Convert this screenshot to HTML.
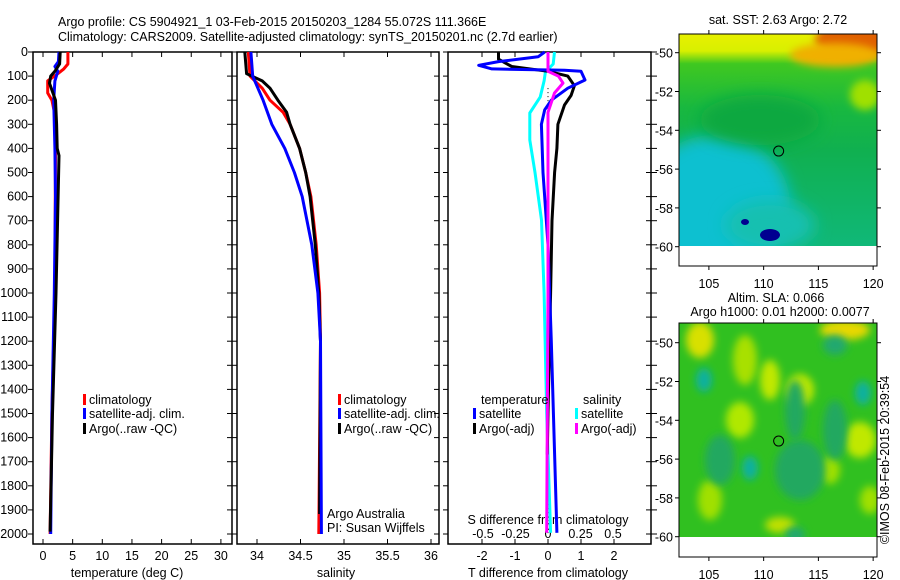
<!DOCTYPE html>
<html><head><meta charset="utf-8"><style>
body{margin:0;background:#fff;}
svg{display:block;font-family:"Liberation Sans",sans-serif;}
text{font-size:12.5px;fill:#000;}
</style></head><body>
<svg id="c" width="900" height="580" viewBox="0 0 900 580">
<defs>
<linearGradient id="sstg" x1="0" y1="0" x2="0" y2="1">
<stop offset="0" stop-color="#e8f000"/><stop offset="0.08" stop-color="#d8f000"/><stop offset="0.14" stop-color="#40c820"/><stop offset="0.35" stop-color="#18b840"/><stop offset="0.55" stop-color="#10b050"/><stop offset="1" stop-color="#10b878"/>
</linearGradient>
<filter id="bl" x="-50%" y="-50%" width="200%" height="200%"><feGaussianBlur stdDeviation="8"/></filter>
<filter id="bl2" x="-50%" y="-50%" width="200%" height="200%"><feGaussianBlur stdDeviation="4"/></filter>
<clipPath id="cm1"><rect x="679" y="34" width="198" height="212"/></clipPath>
<clipPath id="cm2"><rect x="679" y="323" width="198" height="214"/></clipPath>
</defs>
</svg>
<script>
const NS='http://www.w3.org/2000/svg';
const svg=document.getElementById('c');
function el(tag,attrs,parent){const e=document.createElementNS(NS,tag);for(const k in attrs)e.setAttribute(k,attrs[k]);(parent||svg).appendChild(e);return e;}
function tx(x,y,s,anchor,name,extra){const t=el('text',Object.assign({x:x,y:y,'text-anchor':anchor||'start'},extra||{}));t.textContent=s;


return t;}

// ---- data ----
const depthTicks=[0,100,200,300,400,500,600,700,800,900,1000,1100,1200,1300,1400,1500,1600,1700,1800,1900,2000];
const tempTicks=[0,5,10,15,20,25,30];
const salTicks=[34,34.5,35,35.5,36];
const tdiffTicks=[-2,-1,0,1,2];
const sdiffTicks=[-0.5,-0.25,0,0.25,0.5];
const sdiffLabels=['-0.5','-0.25','0','0.25','0.5'];

const climTDepth=[0,50,70,90,120,170,200,260,400,1000,1500,2000];
const climT=[4.2,4.2,3.5,2.5,0.8,0.8,1.5,2.0,2.1,2.0,1.5,1.2];
const satTDepth=[0,40,60,80,120,200,400,600,1000,1500,2000];
const satT=[2.7,2.6,2.0,2.5,2.0,1.8,2.0,2.1,1.9,1.5,1.3];
const argoTDepth=[0,50,80,100,130,200,300,400,430,1000,1500,1990];
const argoT=[2.9,2.8,2.0,1.3,1.1,2.1,2.3,2.4,2.7,2.2,1.6,1.2];

const climSDepth=[0,100,150,200,250,300,400,500,600,800,1000,1200,2000];
const climS=[33.9,33.92,34.06,34.15,34.3,34.38,34.49,34.56,34.62,34.68,34.72,34.73,34.71];
const satSDepth=[0,100,150,200,300,400,500,600,800,1000,1200,2000];
const satS=[33.93,33.95,34.01,34.07,34.17,34.32,34.43,34.52,34.63,34.7,34.73,34.74];
const argoSDepth=[0,90,120,150,200,250,300,400,500,600,800,1000,1200,1917];
const argoS=[33.86,33.88,34.06,34.15,34.24,34.34,34.38,34.49,34.56,34.61,34.67,34.71,34.73,34.72];

const satTdDepth=[0,20,40,55,70,76,80,116,150,200,240,300,500,800,1200,1995];
const satTd=[-0.1,-0.3,-1.5,-2.1,-1.7,0.5,1.0,1.12,0.6,0.1,-0.1,-0.2,-0.15,0,0.1,0.27];
const argoTdDepth=[0,30,60,80,100,140,180,220,300,400,500,700,1000,1500,1670];
const argoTd=[-1.5,-1.5,-1.1,0,0.6,0.8,0.7,0.5,0.3,0.27,0.2,0.12,0.08,0,-0.02];
const satSdDepth=[0,50,83,120,187,253,365,500,697,1000,1500,1995];
const satSd=[0.05,0.04,-0.02,-0.03,-0.06,-0.14,-0.14,-0.1,-0.05,-0.03,-0.01,0.02];
const argoSdDepth=[0,80,100,129,170,250,400,1000,1995];
const argoSd=[0,0,0.08,0.115,0.05,0.0,0.0,0,-0.01];

// ---- axes ----
const yD=d=>52+d*0.241;
const xT=t=>43+t*5.93;
const xS=s=>257+(s-34)*87;
const xTd=t=>548+t*33;
const xSd=s=>548+s*130;

const panels=[{x0:33,x1:232,n:'temperature-panel'},{x0:237,x1:439,n:'salinity-panel'},{x0:448,x1:651,n:'difference-panel'}];
panels.forEach((p,i)=>{
 const r=el('rect',{x:p.x0,y:52,width:p.x1-p.x0,height:492,fill:'none',stroke:'#000','stroke-width':1.5});
 
 
 depthTicks.forEach(d=>{
  el('line',{x1:p.x0-5,x2:p.x0,y1:yD(d),y2:yD(d),stroke:'#000'});
  el('line',{x1:p.x1-5,x2:p.x1,y1:yD(d),y2:yD(d),stroke:'#000'});
  if(i==2) el('line',{x1:p.x1,x2:p.x1+6,y1:yD(d),y2:yD(d),stroke:'#000'});
 });
});
depthTicks.forEach(d=>tx(28,yD(d)+4,String(d),'end','depth-tick-label'));
tempTicks.forEach(t=>{el('line',{x1:xT(t),x2:xT(t),y1:52,y2:57,stroke:'#000'});el('line',{x1:xT(t),x2:xT(t),y1:544,y2:539,stroke:'#000'});tx(xT(t),560,String(t),'middle','temp-tick-label');});
salTicks.forEach(t=>{el('line',{x1:xS(t),x2:xS(t),y1:52,y2:57,stroke:'#000'});el('line',{x1:xS(t),x2:xS(t),y1:544,y2:539,stroke:'#000'});tx(xS(t),560,String(t),'middle','salinity-tick-label');});
tdiffTicks.forEach(t=>{el('line',{x1:xTd(t),x2:xTd(t),y1:52,y2:57,stroke:'#000'});el('line',{x1:xTd(t),x2:xTd(t),y1:544,y2:539,stroke:'#000'});tx(xTd(t),560,String(t),'middle','tdiff-tick-label');});
sdiffTicks.forEach((t,i)=>tx(xSd(t),538,sdiffLabels[i],'middle','sdiff-tick-label'));
tx(127,577,'temperature (deg C)','middle','x-axis-title-temperature');
tx(336,577,'salinity','middle','x-axis-title-salinity');
tx(548,577,'T difference from climatology','middle','x-axis-title-tdiff');
tx(548,524,'S difference from climatology','middle','s-diff-axis-title');
tx(58,26,'Argo profile: CS 5904921_1 03-Feb-2015 20150203_1284 55.072S 111.366E','start','title-line-1');
tx(58,41,'Climatology: CARS2009. Satellite-adjusted climatology: synTS_20150201.nc (2.7d earlier)','start','title-line-2');

// zero dotted line
el('line',{x1:xTd(0),x2:xTd(0),y1:yD(150),y2:yD(2000),stroke:'#000','stroke-dasharray':'1,3'});

function line(ds,vs,sx,color,name,w){
 const pts=ds.map((d,i)=>sx(vs[i]).toFixed(1)+','+yD(d).toFixed(1)).join(' ');
 const p=el('polyline',{points:pts,fill:'none',stroke:color,'stroke-width':w||3,'stroke-linejoin':'round'});
 
 
}
line(climTDepth,climT,xT,'#f00','temp-climatology-line');
line(satTDepth,satT,xT,'#00f','temp-satellite-line');
line(argoTDepth,argoT,xT,'#000','temp-argo-line');
line(climSDepth,climS,xS,'#f00','sal-climatology-line');
line(argoSDepth,argoS,xS,'#000','sal-argo-line');
line(satSDepth,satS,xS,'#00f','sal-satellite-line');
line(satSdDepth,satSd,xSd,'#0ff','sdiff-satellite-line');
line(argoTdDepth,argoTd,xTd,'#000','tdiff-argo-line');
line(satTdDepth,satTd,xTd,'#00f','tdiff-satellite-line');
line(argoSdDepth,argoSd,xSd,'#f0f','sdiff-argo-line');

function leg(x,y,color,label,name){el('rect',{x:x,y:y-10,width:3,height:11,fill:color});tx(x+6,y,label,'start',name);}
[[83,'climatology'],[338,'climatology']].forEach(a=>leg(a[0],404,'#f00',a[1],'legend-climatology'));
[83,338].forEach(x=>{leg(x,418,'#00f','satellite-adj. clim.','legend-satellite');leg(x,433,'#000','Argo(..raw -QC)','legend-argo');});
tx(481,404,'temperature','start','legend-temperature-header');
leg(473,418,'#00f','satellite','legend-temp-satellite');leg(473,433,'#000','Argo(-adj)','legend-temp-argo');
tx(583,404,'salinity','start','legend-salinity-header');
leg(575,418,'#0ff','satellite','legend-sal-satellite');leg(575,433,'#f0f','Argo(-adj)','legend-sal-argo');
tx(327,518,'Argo Australia','start','credit-argo-australia');
tx(327,532,'PI: Susan Wijffels','start','credit-pi');

// ---- maps ----
const lonTicks=[105,110,115,120];
const latTicks=[-50,-52,-54,-56,-58,-60];
const floatLon=111.37, floatLat=-55.07;
let g1=el('g',{'clip-path':'url(#cm1)'});


el('rect',{x:679,y:34,width:198,height:212,fill:'url(#sstg)'},g1);
el('ellipse',{cx:715,cy:205,rx:75,ry:70,fill:'#10c0d0',filter:'url(#bl)'},g1);
el('ellipse',{cx:770,cy:225,rx:45,ry:25,fill:'#18c0b0',filter:'url(#bl)'},g1);
el('ellipse',{cx:855,cy:40,rx:40,ry:18,fill:'#e06000',filter:'url(#bl2)'},g1);
el('ellipse',{cx:835,cy:55,rx:45,ry:12,fill:'#f0b000',filter:'url(#bl2)'},g1);
el('ellipse',{cx:760,cy:120,rx:60,ry:25,fill:'#10a840',filter:'url(#bl)'},g1);
el('ellipse',{cx:865,cy:95,rx:15,ry:15,fill:'#a0e000',filter:'url(#bl2)'},g1);
el('ellipse',{cx:770,cy:235,rx:10,ry:6,fill:'#000090'},g1);
el('ellipse',{cx:745,cy:222,rx:4,ry:3,fill:'#000090'},g1);
el('rect',{x:679,y:34,width:198,height:232,fill:'none',stroke:'#000'});
function mapAxes(top,bot,latTop){
 lonTicks.forEach(l=>{const x=679+(l-102.27)*10.95;el('line',{x1:x,x2:x,y1:top,y2:top-4,stroke:'#000'});el('line',{x1:x,x2:x,y1:bot,y2:bot+4,stroke:'#000'});tx(x,bot+22,String(l),'middle','map-lon-label',{'font-size':'14px'});});
 latTicks.forEach(l=>{const y=latTop+(-50-l)*19.4;el('line',{x1:679,x2:675,y1:y,y2:y,stroke:'#000'});el('line',{x1:877,x2:881,y1:y,y2:y,stroke:'#000'});tx(673,y+5,String(l),'end','map-lat-label',{'font-size':'14px'});});
}
mapAxes(34,266,52.7);
let c1=el('circle',{cx:679+(floatLon-102.27)*10.95,cy:52.7+(-50-floatLat)*19.4,r:5,fill:'none',stroke:'#000'});


tx(778,24,'sat. SST: 2.63 Argo: 2.72','middle','sst-map-title');

// bottom SLA map
let g2=el('g',{'clip-path':'url(#cm2)'});


el('rect',{x:679,y:323,width:198,height:214,fill:'#30c020'},g2);
[[700,340,14,18,'#d8e000'],[745,360,12,25,'#a8e000'],[770,380,10,20,'#c0e800'],[740,420,14,18,'#b0e800'],[800,390,14,16,'#c0e800'],[845,330,25,10,'#e8d800'],[860,440,16,18,'#c0e800'],[830,470,10,14,'#a0e000'],[710,500,12,20,'#a0e000'],[780,525,15,8,'#c0e000'],[870,500,10,14,'#a0e000']].forEach(b=>el('ellipse',{cx:b[0],cy:b[1],rx:b[2],ry:b[3],fill:b[4],filter:'url(#bl2)'},g2));
[[704,380,8,12,'#10b0a0'],[750,468,8,12,'#10b0a0'],[863,393,8,12,'#10b0a0'],[800,470,25,30,'#20a860'],[720,460,15,25,'#20a860'],[835,345,12,10,'#20a870'],[795,535,10,8,'#20a870'],[795,410,10,30,'#20a860'],[835,430,12,30,'#20a860']].forEach(b=>el('ellipse',{cx:b[0],cy:b[1],rx:b[2],ry:b[3],fill:b[4],filter:'url(#bl2)'},g2));
el('rect',{x:679,y:323,width:198,height:234,fill:'none',stroke:'#000'});
mapAxes(323,557,342.7);
let c2=el('circle',{cx:679+(floatLon-102.27)*10.95,cy:342.7+(-50-floatLat)*19.4,r:5,fill:'none',stroke:'#000'});


tx(776,302,'Altim. SLA: 0.066','middle','sla-map-title-1');
tx(780,316,'Argo h1000: 0.01 h2000: 0.0077','middle','sla-map-title-2');
tx(0,0,'©IMOS 08-Feb-2015 20:39:54','middle','copyright-timestamp',{transform:'translate(889,460) rotate(-90)'});
</script>
</body></html>
